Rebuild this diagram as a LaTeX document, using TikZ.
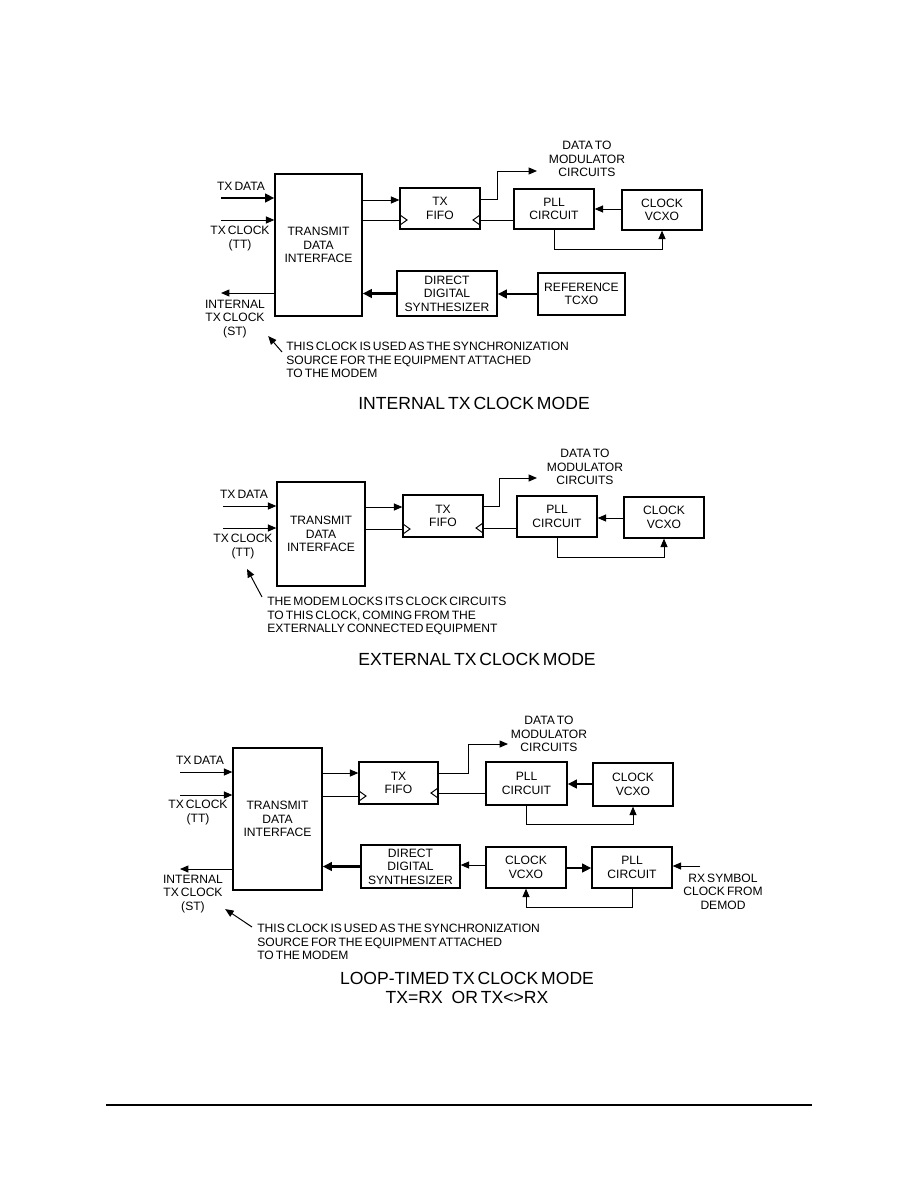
\documentclass[tikz,border=0pt]{standalone}
\usepackage{fontspec}
\setmainfont{Liberation Sans}[WordSpace=0.6]
\usetikzlibrary{arrows.meta}

\begin{document}
\begin{tikzpicture}[x=0.025cm, y=-0.025cm, font=\fontsize{8.6}{9.5}\selectfont,
    box/.style 2 args={draw, line width=0.9pt, align=center, inner sep=0pt,
      minimum width=#1*0.025cm, minimum height=#2*0.025cm},
    lnk/.style={line width=0.7pt},
    wire/.style={lnk, -{Triangle[length=6pt, width=5pt]}},
    bus/.style={line width=1.5pt, -{Triangle[length=6.5pt, width=6pt]}},
    lbl/.style={align=center, inner sep=0pt},
    note/.style={align=left, inner sep=0pt, anchor=west},
    mode/.style={font=\fontsize{12.5}{13.6}\selectfont, align=center, inner sep=0pt}]
  \useasboundingbox (0,0) rectangle (918,1188);

  % internal tx clock mode
  \node[box={87}{142}] (tdiA) at (318.5,245) {TRANSMIT\\DATA\\INTERFACE};
  \node[box={80}{41}] (fifoA) at (440,208.5) {TX\\FIFO};
  \node[box={80}{40}] (pllA) at (554,209) {PLL\\CIRCUIT};
  \node[box={80}{40}] (vcxoA) at (662,210) {CLOCK\\VCXO};
  \node[box={100}{45}] (ddsA) at (447,293.5) {DIRECT\\DIGITAL\\SYNTHESIZER};
  \node[box={87}{42}] (tcxoA) at (581.5,294) {REFERENCE\\TCXO};
  \node[lbl] (txdA) at (241,186) {TX DATA};
  \node[lbl] (txcA) at (240,238.5) {TX CLOCK\\(TT)};
  \node[lbl] (stA) at (235,319) {INTERNAL\\TX CLOCK\\(ST)};
  \node[lbl] (dataA) at (587,159) {DATA TO\\MODULATOR\\CIRCUITS};
  \node[note] (noteA) at (286,360) {THIS CLOCK IS USED AS THE SYNCHRONIZATION\\SOURCE FOR THE EQUIPMENT ATTACHED\\TO THE MODEM};
  \node[mode] (titleA) at (474,403) {INTERNAL TX CLOCK MODE};
  \coordinate (dA) at (221,198);
  \coordinate (cA) at (221,220);
  \coordinate (sA) at (221,293);
  \coordinate (oA) at (537,171);
  \draw[bus] (dA) -- (tdiA.west |- dA);
  \draw[wire] (cA) -- (tdiA.west |- cA);
  \draw[wire] (tdiA.west |- sA) -- (sA);
  \draw[wire] (tdiA.east |- 0,200) -- (fifoA.west |- 0,200);
  \draw[lnk] (tdiA.east |- 0,220) -- (fifoA.west |- 0,220);
  \draw[wire] (fifoA.east |- 0,199) -- (497,199) |- (oA);
  \draw[lnk] (pllA.west |- 0,220) -- (fifoA.east |- 0,220);
  \draw[wire] (vcxoA.west |- 0,209) -- (pllA.east |- 0,209);
  \draw[wire] (pllA.south) -- ++(0,20) -| (vcxoA.south);
  \draw[bus] (tcxoA.west) -- (ddsA.east |- tcxoA.west);
  \draw[bus] (ddsA.west) -- (tdiA.east |- ddsA.west);
  \draw[wire] ([shift={(-4,-8)}]noteA.west) -- ([shift={(3,-2)}]stA.south east);

  % external tx clock mode
  \node[box={88}{104}] (tdiB) at (321,534) {TRANSMIT\\DATA\\INTERFACE};
  \node[box={80}{42}] (fifoB) at (443,516) {TX\\FIFO};
  \node[box={80}{41}] (pllB) at (557,516.5) {PLL\\CIRCUIT};
  \node[box={80}{41}] (vcxoB) at (664,517.5) {CLOCK\\VCXO};
  \node[lbl] (txdB) at (244,494) {TX DATA};
  \node[lbl] (txcB) at (243,546.5) {TX CLOCK\\(TT)};
  \node[lbl] (dataB) at (585,467) {DATA TO\\MODULATOR\\CIRCUITS};
  \node[note] (noteB) at (267,616) {THE MODEM LOCKS ITS CLOCK CIRCUITS\\TO THIS CLOCK, COMING FROM THE\\EXTERNALLY CONNECTED EQUIPMENT};
  \node[mode] (titleB) at (477,659) {EXTERNAL TX CLOCK MODE};
  \coordinate (dB) at (223,506);
  \coordinate (cB) at (223,528);
  \coordinate (oB) at (537,478);
  \draw[wire] (dB) -- (tdiB.west |- dB);
  \draw[wire] (cB) -- (tdiB.west |- cB);
  \draw[wire] (tdiB.east |- 0,507) -- (fifoB.west |- 0,507);
  \draw[lnk] (tdiB.east |- 0,529) -- (fifoB.west |- 0,529);
  \draw[wire] (fifoB.east |- 0,506) -- (499,506) |- (oB);
  \draw[lnk] (pllB.west |- 0,528) -- (fifoB.east |- 0,528);
  \draw[wire] (vcxoB.west |- 0,518) -- (pllB.east |- 0,518);
  \draw[wire] (pllB.south) -- ++(0,20) -| (vcxoB.south);
  \draw[wire] ([shift={(-5,-19)}]noteB.west) -- ([shift={(4,10)}]txcB.south);

  % loop-timed tx clock mode
  \node[box={89}{142}] (tdiC) at (277.5,819) {TRANSMIT\\DATA\\INTERFACE};
  \node[box={79}{42}] (fifoC) at (398.5,783) {TX\\FIFO};
  \node[box={81}{43}] (pllC) at (526.5,783.5) {PLL\\CIRCUIT};
  \node[box={80}{43}] (vcxoC) at (633,784.5) {CLOCK\\VCXO};
  \node[box={99}{43}] (ddsC) at (410.5,866.5) {DIRECT\\DIGITAL\\SYNTHESIZER};
  \node[box={80}{41}] (vcxoD) at (526,867.5) {CLOCK\\VCXO};
  \node[box={80}{41}] (pllD) at (632,867.5) {PLL\\CIRCUIT};
  \node[lbl] (txdC) at (200,760) {TX DATA};
  \node[lbl] (txcC) at (198,812.5) {TX CLOCK\\(TT)};
  \node[lbl] (stC) at (193,894) {INTERNAL\\TX CLOCK\\(ST)};
  \node[lbl] (dataC) at (549,734) {DATA TO\\MODULATOR\\CIRCUITS};
  \node[lbl] (rxC) at (723,891.5) {RX SYMBOL\\CLOCK FROM\\DEMOD};
  \node[note] (noteC) at (257,942) {THIS CLOCK IS USED AS THE SYNCHRONIZATION\\SOURCE FOR THE EQUIPMENT ATTACHED\\TO THE MODEM};
  \node[mode] (titleC) at (467,987.5) {LOOP-TIMED TX CLOCK MODE\\TX=RX\ \ \ OR TX<>RX};
  \coordinate (dC) at (180,772);
  \coordinate (cC) at (180,795);
  \coordinate (sC) at (180,869);
  \coordinate (oC) at (508,744);
  \coordinate (rC) at (700,866);
  \draw[wire] (dC) -- (tdiC.west |- dC);
  \draw[wire] (cC) -- (tdiC.west |- cC);
  \draw[wire] (tdiC.west |- sC) -- (sC);
  \draw[wire] (tdiC.east |- 0,773) -- (fifoC.west |- 0,773);
  \draw[lnk] (tdiC.east |- 0,796) -- (fifoC.west |- 0,796);
  \draw[wire] (fifoC.east |- 0,773) -- (468,773) |- (oC);
  \draw[lnk] (pllC.west |- 0,793) -- (fifoC.east |- 0,793);
  \draw[bus] (vcxoC.west |- 0,784) -- (pllC.east |- 0,784);
  \draw[wire] (pllC.south) -- ++(0,19) -| (vcxoC.south);
  \draw[bus] (ddsC.west) -- (tdiC.east |- ddsC.west);
  \draw[wire] (vcxoD.west |- 0,865) -- (ddsC.east |- 0,865);
  \draw[bus] (vcxoD.east |- 0,868) -- (pllD.west |- 0,868);
  \draw[wire] (rC) -- (pllD.east |- rC);
  \draw[wire] (pllD.south) -- ++(0,19) -| (vcxoD.south);
  \draw[wire] ([shift={(-5,-15)}]noteC.west) -- ([shift={(2,-4)}]stC.south east);

  % clock inputs
  \foreach \x/\y/\d in {400/220/1, 480/220/-1, 403/529/1, 483/528/-1, 359/796/1, 438/793/-1}
    \draw[lnk] (\x,\y-5) -- (\x+7*\d,\y) -- (\x,\y+5);

  \draw[line width=0.9pt] (106,1105) -- (812,1105);
\end{tikzpicture}
\end{document}
